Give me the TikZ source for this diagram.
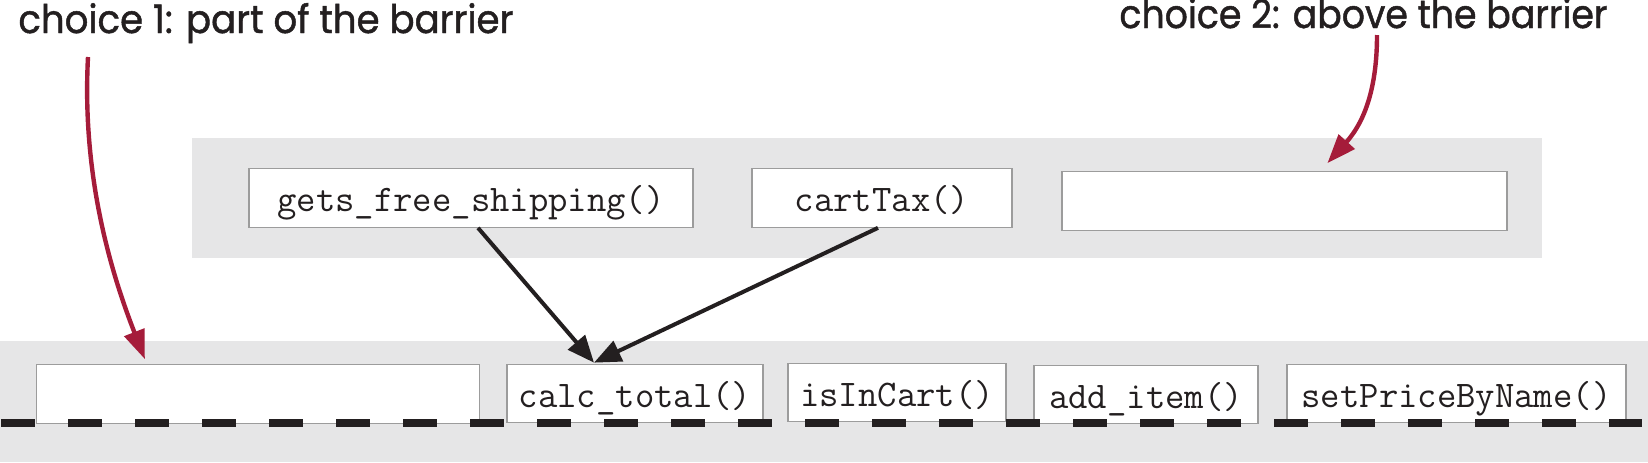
\documentclass[tikz,border=0pt]{standalone}
\usepackage{fontspec}
\usetikzlibrary{arrows.meta}
\newfontfamily\handfont[FakeBold=1.2]{Poppins}
\definecolor{band}{HTML}{E6E6E7}
\definecolor{boxline}{HTML}{9C9C9C}
\definecolor{ink}{HTML}{231F20}
\definecolor{crimson}{HTML}{A51C3A}
\tikzset{
  fn/.style={draw=boxline, fill=white, line width=0.6pt, inner xsep=0pt, inner ysep=0pt,
    text height=21.5pt, text depth=7.75pt, font=\fontsize{18.8pt}{21pt}\selectfont\ttfamily, text=ink},
  bandfill/.style={fill=band, draw=none},
  barrier/.style={draw=ink, line width=4pt, dash pattern=on 16.75pt off 16.75pt},
  callarrow/.style={draw=ink, line width=2pt, -{Triangle[length=13.5pt,width=11pt]}},
  notearrow/.style={draw=crimson, line width=2.2pt, -{Triangle[length=14.5pt,width=10.5pt]}},
  note/.style={anchor=base west, inner sep=0pt, text=ink},
}
\begin{document}
\begin{tikzpicture}[x=0.5pt,y=-0.5pt]
\useasboundingbox (0,0) rectangle (1648,462);
% bands
\fill[bandfill] (192,138) rectangle (1542,258);
\fill[bandfill] (0,341) rectangle (1648,462);
% top boxes
\node[fn, minimum width=222pt] (gets) at (471,198) {gets\_free\_shipping()};
\node[fn, minimum width=130pt] (tax) at (882,198) {cartTax()};
\node[fn, minimum width=222.5pt] (emptytop) at (1284.5,201) {};
% bottom boxes
\node[fn, minimum width=221.5pt] (emptybot) at (258,394) {};
\node[fn, minimum width=128pt] (calc) at (635,393.5) {calc\_total()};
\node[fn, minimum width=109pt] (incart) at (897,392.5) {isInCart()};
\node[fn, minimum width=112pt] (additem) at (1146,394.5) {add\_item()};
\node[fn, minimum width=169.5pt] (setprice) at (1456.5,393.5) {setPriceByName()};
% barrier
\draw[barrier] (1,423) -- (1642,423);
% call arrows
\draw[callarrow] ([xshift=3.5pt]gets.south) -- ([xshift=-20.5pt,yshift=0.5pt]calc.north);
\draw[callarrow] ([xshift=-2pt]tax.south) -- ([xshift=-20.5pt,yshift=0.5pt]calc.north);
% notes
\node[note] (lab1) at (18,33) {\resizebox{247.5pt}{15pt}{\handfont choice 1: part of the barrier}};
\node[note] (lab2) at (1119,28) {\resizebox{244pt}{15pt}{\handfont choice 2: above the barrier}};
\coordinate (s1) at (88,57);
\coordinate (s2) at (1377,35);
\draw[notearrow] (s1) .. controls (82,170) and (108,265) .. ([xshift=54.5pt,yshift=2.5pt]emptybot.north west);
\draw[notearrow] (s2) .. controls (1377,80) and (1368,118) .. ([xshift=133pt,yshift=4pt]emptytop.north west);
\end{tikzpicture}
\end{document}
